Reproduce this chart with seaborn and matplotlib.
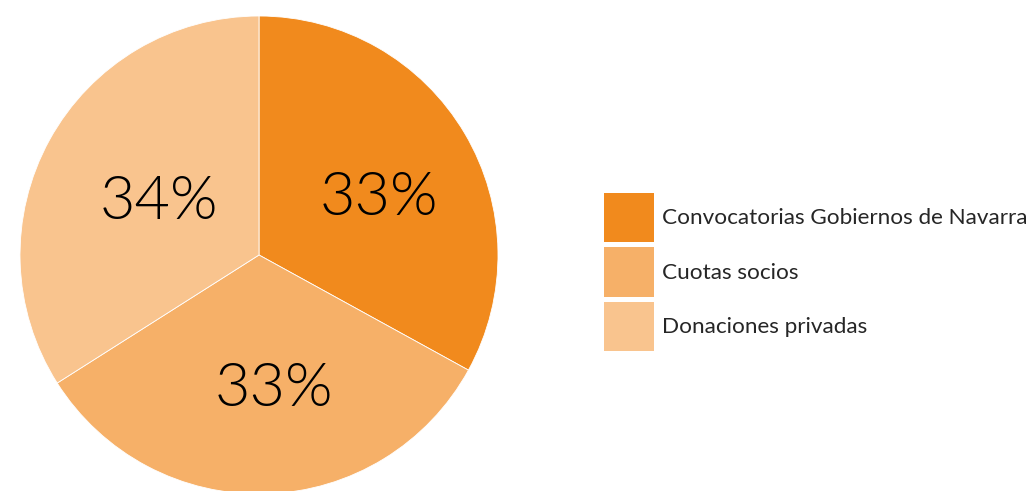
import seaborn as sns
import matplotlib.pyplot as plt
import matplotlib.transforms as mtransforms
from matplotlib.patches import Patch

sns.set_style("white")
plt.rcParams["font.family"] = ["Lato", "DejaVu Sans"]

# datos
categorias = ["Convocatorias Gobiernos de Navarra", "Cuotas socios", "Donaciones privadas"]
valores = [33, 33, 34]
colores = ["#F18A1D", "#F6B068", "#F9C48E"]

fig = plt.figure(figsize=(10.27, 4.91), dpi=100)
ax = fig.add_axes([20/1027, -3/491, 478/1027, 478/491])

wedges, texts, autotexts = ax.pie(
    valores, colors=colores, startangle=90, counterclock=False,
    autopct=lambda p: f"{p:.0f}%", pctdistance=0.53,
    wedgeprops={"edgecolor": "white", "linewidth": 0.6},
    textprops={"fontsize": 44, "color": "black", "fontweight": 300})
desplaz = mtransforms.ScaledTranslation(8/72, -6/72, fig.dpi_scale_trans)
for t in autotexts:
    t.set_transform(t.get_transform() + desplaz)
ax.set_xlim(-1, 1); ax.set_ylim(-1, 1)
ax.set_aspect("equal"); ax.axis("off")

handles = [Patch(facecolor=c, edgecolor="none") for c in colores]
fig.legend(handles, categorias, loc="upper left",
           bbox_to_anchor=(604/1027, 1 - 193/491), frameon=False,
           fontsize=16.2, handlelength=2.2, handleheight=3.0,
           labelspacing=0.22, handletextpad=0.4, borderpad=0,
           borderaxespad=0)

plt.savefig("out.png", dpi=100)
